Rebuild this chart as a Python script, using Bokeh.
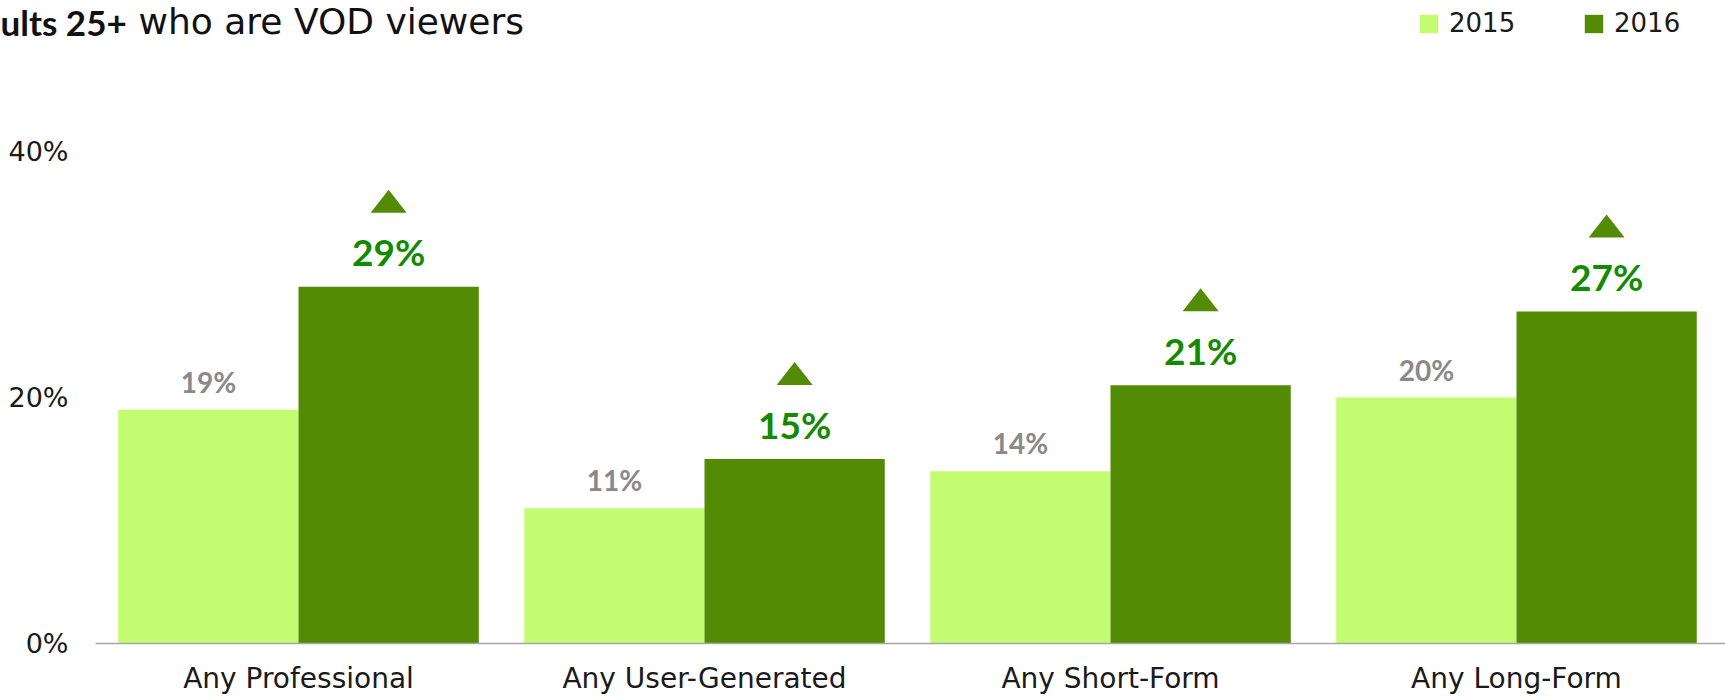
from bokeh.plotting import figure
from bokeh.models import (Range1d, FixedTicker, NumeralTickFormatter,
                          Legend, LegendItem, Label, ColumnDataSource)
from bokeh.core.properties import value
from bokeh.embed import file_html
from bokeh.resources import INLINE

# ---- data ----
categories = ["Any Professional", "Any User-Generated", "Any Short-Form", "Any Long-Form"]
years = ["2015", "2016"]
v2015 = [0.19, 0.11, 0.14, 0.20]
v2016 = [0.29, 0.15, 0.21, 0.27]
y_ticks = [0, 0.2, 0.4]
title_bold = "ults 25+"
title_rest = "who are VOD viewers"

# ---- style / geometry ----
C15 = "#C3FB71"
C16 = "#548B04"
GREEN_TXT = "#138A00"
GREY_TXT = "#898989"
TXT = "#1a1a1a"
W, H = 1725, 698
PLOT_L, PLOT_R = 95, 6          # pixels left/right of the category area
BASE_Y = 643                    # pixel row of the 0% baseline
n = len(categories)
unit_px = (W - PLOT_L - PLOT_R) / n   # pixels per category slot
PX_PER_UNIT = 1230.0                  # pixels per 100% on the y axis
k = 1.0 / PX_PER_UNIT
kx = 1.0 / unit_px
bw = 0.444

xs_cat = [i + 0.5 for i in range(n)]

p = figure(width=W, height=H,
           x_range=Range1d(-PLOT_L * kx, (W - PLOT_L) * kx),
           y_range=Range1d(-(H - BASE_Y) * k, BASE_Y * k),
           output_backend="svg", toolbar_location=None,
           min_border_left=0, min_border_right=0,
           min_border_top=0, min_border_bottom=0)

src = ColumnDataSource(dict(
    x15=[x - bw / 2 for x in xs_cat], x16=[x + bw / 2 for x in xs_cat],
    v2015=v2015, v2016=v2016,
    l2015=[f"{round(v * 100)}%" for v in v2015],
    l2016=[f"{round(v * 100)}%" for v in v2016],
))

r1 = p.vbar(x="x15", top="v2015", width=bw, source=src, fill_color=C15, line_color=None)
r2 = p.vbar(x="x16", top="v2016", width=bw, source=src, fill_color=C16, line_color=None)

p.text(x="x15", y="v2015", text="l2015", source=src, text_align="center",
       text_baseline="alphabetic", y_offset=-28,
       text_font=value("Lato"), text_font_style="bold", text_font_size="28px",
       text_color=GREY_TXT)
p.text(x="x16", y="v2016", text="l2016", source=src, text_align="center",
       text_baseline="alphabetic", y_offset=-35,
       text_font=value("Lato"), text_font_style="bold", text_font_size="37px",
       text_color=GREEN_TXT)

# up-arrows (triangles) above the 2016 bars
tri_xs, tri_ys = [], []
for x, v in zip(src.data["x16"], v2016):
    hw = 18 * kx
    yb = v + 74 * k
    yt = yb + 23 * k
    tri_xs.append([x - hw, x + hw, x])
    tri_ys.append([yb, yb, yt])
p.patches(xs=tri_xs, ys=tri_ys, fill_color=C16, line_color=None)

# y axis, pinned at the left edge of the category area
p.yaxis.fixed_location = 0
p.yaxis.ticker = FixedTicker(ticks=y_ticks)
p.yaxis.formatter = NumeralTickFormatter(format="0%")
p.yaxis.axis_line_color = None
p.yaxis.major_tick_line_color = None
p.yaxis.minor_tick_line_color = None
p.yaxis.major_tick_out = 0
p.yaxis.major_tick_in = 0
p.yaxis.major_label_standoff = 27
p.yaxis.major_label_text_font = "DejaVu Sans"
p.yaxis.major_label_text_font_size = "27px"
p.yaxis.major_label_text_color = TXT

# x axis with category names, pinned at 0%
p.xaxis.fixed_location = 0
p.xaxis.ticker = FixedTicker(ticks=xs_cat)
p.xaxis.major_label_overrides = {x: c for x, c in zip(xs_cat, categories)}
p.xaxis.bounds = (0, (W - PLOT_L) * kx)
p.xaxis.axis_line_color = "#a6a6a6"
p.xaxis.axis_line_width = 1.5
p.xaxis.major_tick_line_color = None
p.xaxis.minor_tick_line_color = None
p.xaxis.major_tick_out = 0
p.xaxis.major_tick_in = 0
p.xaxis.major_label_standoff = 18
p.xaxis.major_label_text_font = "DejaVu Sans"
p.xaxis.major_label_text_font_size = "28px"
p.xaxis.major_label_text_color = TXT

p.grid.visible = False
p.outline_line_color = None

legend = Legend(items=[LegendItem(label=years[0], renderers=[r1]),
                       LegendItem(label=years[1], renderers=[r2])],
                orientation="horizontal", location=(1417, H - 38),
                glyph_width=23, glyph_height=23, label_standoff=9,
                label_width=133, label_height=30, spacing=0, padding=0, margin=0,
                border_line_color=None, background_fill_alpha=0,
                label_text_font="DejaVu Sans", label_text_font_size="26px",
                label_text_color=TXT)
p.add_layout(legend)

p.add_layout(Label(x=0, y=H - 21, x_units="screen", y_units="screen",
                   text=title_bold, text_font="Lato", text_font_style="bold",
                   text_font_size="35px", text_color="#111111", text_baseline="alphabetic"))
p.add_layout(Label(x=138, y=H - 21, x_units="screen", y_units="screen",
                   text=title_rest, text_font="DejaVu Sans",
                   text_font_size="36px", text_color="#111111", text_baseline="alphabetic"))

open("out.html", "w").write(file_html(p, INLINE))
